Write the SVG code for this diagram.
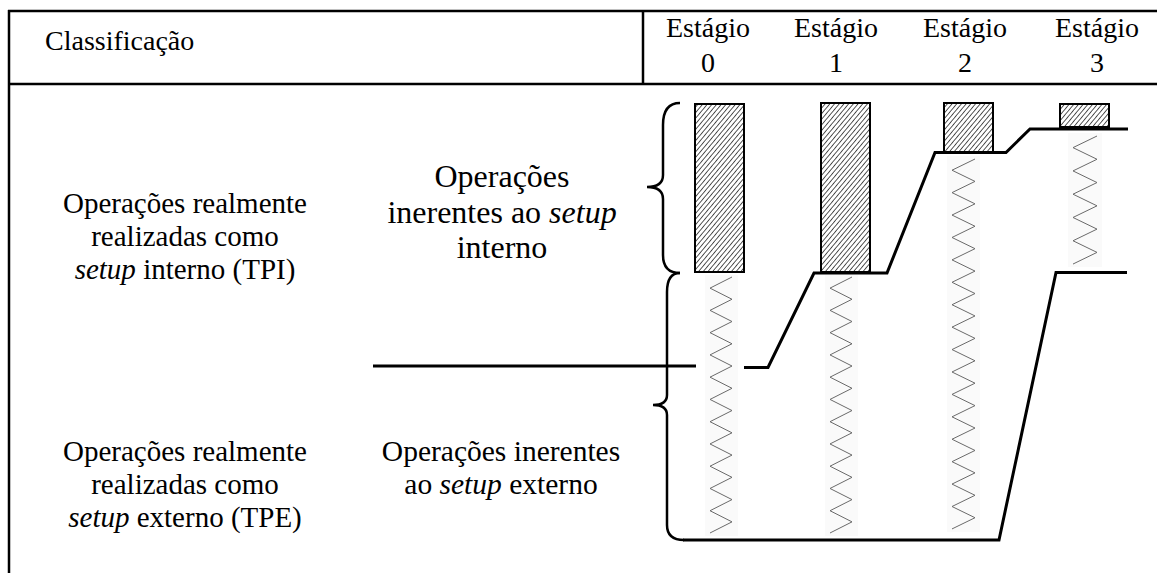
<svg xmlns="http://www.w3.org/2000/svg" width="1157" height="573" viewBox="0 0 1157 573">
<style>
  text { font-family: 'Liberation Serif', 'Times New Roman', serif; fill: #000; }
  .hdr { font-size: 28px; }
  .lbl { font-size: 29px; text-anchor: middle; }
  .mid1 { font-size: 32px; text-anchor: middle; }
  .mid2 { font-size: 29.5px; text-anchor: middle; }
  .stg { font-size: 28px; text-anchor: middle; }
  .it { font-style: italic; }
  .frame { stroke: #000; stroke-width: 2.5; fill: none; }
  .bar { fill: url(#hatch); stroke: #000; stroke-width: 2; }
  .zz { fill: none; stroke: #6a6a6a; stroke-width: 1; }
  .zzbg { fill: #fafafa; stroke: none; }
  .line { fill: none; stroke: #000; stroke-width: 3; stroke-linejoin: miter; }
  .brace { fill: none; stroke: #000; stroke-width: 2.5; }
</style>
<defs>
  <pattern id="hatch" patternUnits="userSpaceOnUse" width="3.6" height="4" patternTransform="rotate(40)">
    <rect width="3.6" height="4" fill="#fff"/>
    <line x1="0" y1="0" x2="0" y2="4" stroke="#444" stroke-width="1.8"/>
  </pattern>
</defs>
<rect width="1157" height="573" fill="#fff"/>

<g id="table">
  <line class="frame" x1="8" y1="11" x2="1157" y2="11"/>
  <line class="frame" x1="9" y1="10" x2="9" y2="573"/>
  <line class="frame" x1="8" y1="84" x2="1157" y2="84"/>
  <line class="frame" x1="643" y1="11" x2="643" y2="84"/>
</g>

<g id="header">
  <text class="hdr" x="45" y="50">Classificação</text>
  <text class="stg" x="708" y="37">Estágio</text>
  <text class="stg" x="708" y="72">0</text>
  <text class="stg" x="836" y="37">Estágio</text>
  <text class="stg" x="836" y="72">1</text>
  <text class="stg" x="965" y="37">Estágio</text>
  <text class="stg" x="965" y="72">2</text>
  <text class="stg" x="1097" y="37">Estágio</text>
  <text class="stg" x="1097" y="72">3</text>
</g>

<g id="label-tpi">
  <text class="lbl" x="185" y="213">Operações realmente</text>
  <text class="lbl" x="185" y="246">realizadas como</text>
  <text class="lbl" x="185" y="279"><tspan class="it">setup</tspan> interno (TPI)</text>
</g>
<g id="label-tpe">
  <text class="lbl" x="185" y="461">Operações realmente</text>
  <text class="lbl" x="185" y="494">realizadas como</text>
  <text class="lbl" x="185" y="527"><tspan class="it">setup</tspan> externo (TPE)</text>
</g>
<g id="label-interno">
  <text class="mid1" x="502" y="187">Operações</text>
  <text class="mid1" x="502" y="223">inerentes ao <tspan class="it">setup</tspan></text>
  <text class="mid1" x="502" y="258">interno</text>
</g>
<g id="label-externo">
  <text class="mid2" x="501" y="461">Operações inerentes</text>
  <text class="mid2" x="501" y="494">ao <tspan class="it">setup</tspan> externo</text>
</g>

<g id="braces">
  <path class="brace" d="M680,103 Q663,103 663,125 L663,175 Q663,187 647,187 Q663,187 663,199 L663,255 Q663,273 680,273"/>
  <path class="brace" d="M680,273 Q667,273 667,292 L667,395 Q667,405 653,405 Q667,405 667,415 L667,525 Q667,540 684,540"/>
</g>

<g id="stage0">
  <rect class="zzbg" x="705" y="275" width="33" height="261"/>
  <path class="zz" d="M732,277 l-22,11.13 l22,11.13 l-22,11.13 l22,11.13 l-22,11.13 l22,11.13 l-22,11.13 l22,11.13 l-22,11.13 l22,11.13 l-22,11.13 l22,11.13 l-22,11.13 l22,11.13 l-22,11.13 l22,11.13 l-22,11.13 l22,11.13 l-22,11.13 l22,11.13 l-22,11.13 l22,11.13 l-22,11.13"/>
  <rect class="bar" x="695" y="104" width="49" height="168"/>
</g>
<g id="stage1">
  <rect class="zzbg" x="825" y="275" width="33" height="261"/>
  <path class="zz" d="M852,277 l-22,11.13 l22,11.13 l-22,11.13 l22,11.13 l-22,11.13 l22,11.13 l-22,11.13 l22,11.13 l-22,11.13 l22,11.13 l-22,11.13 l22,11.13 l-22,11.13 l22,11.13 l-22,11.13 l22,11.13 l-22,11.13 l22,11.13 l-22,11.13 l22,11.13 l-22,11.13 l22,11.13 l-22,11.13"/>
  <rect class="bar" x="821" y="103" width="49" height="169"/>
</g>
<g id="stage2">
  <rect class="zzbg" x="947" y="156" width="33" height="376"/>
  <path class="zz" d="M975,159 l-23,11.21 l23,11.21 l-23,11.21 l23,11.21 l-23,11.21 l23,11.21 l-23,11.21 l23,11.21 l-23,11.21 l23,11.21 l-23,11.21 l23,11.21 l-23,11.21 l23,11.21 l-23,11.21 l23,11.21 l-23,11.21 l23,11.21 l-23,11.21 l23,11.21 l-23,11.21 l23,11.21 l-23,11.21 l23,11.21 l-23,11.21 l23,11.21 l-23,11.21 l23,11.21 l-23,11.21 l23,11.21 l-23,11.21 l23,11.21 l-23,11.21"/>
  <rect class="bar" x="944" y="103" width="49" height="49"/>
</g>
<g id="stage3">
  <rect class="zzbg" x="1068" y="133" width="34" height="134"/>
  <path class="zz" d="M1097,136 l-24,11.64 l24,11.64 l-24,11.64 l24,11.64 l-24,11.64 l24,11.64 l-24,11.64 l24,11.64 l-24,11.64 l24,11.64 l-24,11.64"/>
  <rect class="bar" x="1060" y="104" width="49" height="23"/>
</g>

<g id="connectors">
  <polyline class="line" points="373,366 696,366"/>
  <polyline class="line" points="744,367.5 768,367.5 814,273 887,273 935,152.5 1006,152.5 1030,129 1128,129"/>
  <polyline class="line" points="683,540 999,540 1056,272.5 1127,272.5"/>
</g>
</svg>
